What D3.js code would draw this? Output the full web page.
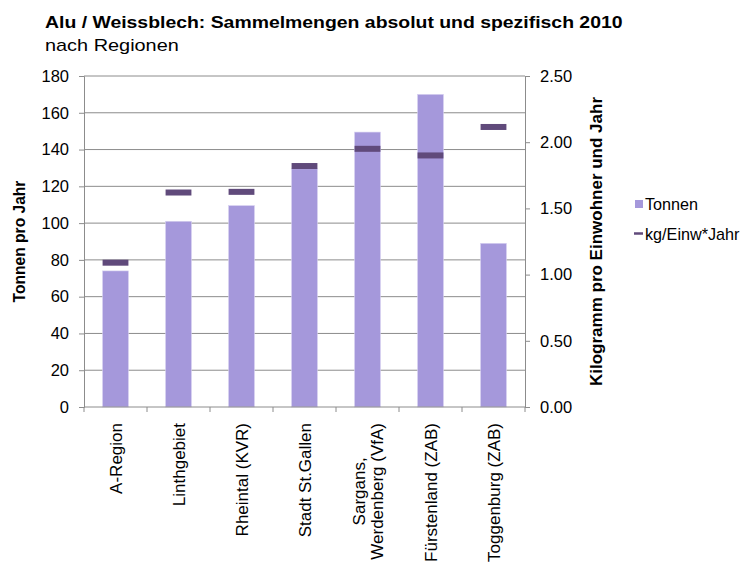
<!DOCTYPE html>
<html>
<head>
<meta charset="utf-8">
<script src="https://cdn.jsdelivr.net/npm/d3@7"></script>
<style>
  body { margin: 0; background: #fff; }
  svg { font-family: "Liberation Sans", Arial, sans-serif; }
</style>
</head>
<body>
<div id="chart"></div>
<script>
// regions and values
var regions = [
  ['A-Region'],
  ['Linthgebiet'],
  ['Rheintal (KVR)'],
  ['Stadt St.Gallen'],
  ['Sargans,', 'Werdenberg (VfA)'],
  ['Fürstenland (ZAB)'],
  ['Toggenburg (ZAB)']
];
var tonnen = [74, 101, 109.5, 129.5, 149.5, 170, 89];
var kgEinw = [1.09, 1.62, 1.625, 1.82, 1.95, 1.90, 2.115];
var leftTicks = [0, 20, 40, 60, 80, 100, 120, 140, 160, 180];
var rightTicks = [0, 0.5, 1, 1.5, 2, 2.5];

var W = 745, H = 565;
var m = {left: 84, right: 220, top: 76, bottom: 158};
var pw = W - m.left - m.right, ph = H - m.top - m.bottom;

var barColor = '#a598db', markColor = '#604a7b', gridColor = '#8c8c8c';

var svg = d3.select('#chart').append('svg')
  .attr('width', W).attr('height', H);

// the original text is a bit wider than tall, so stretch it sideways
function wideText(x, y, size, bold, str) {
  svg.append('text')
    .attr('transform', 'translate(' + x + ',' + y + ') scale(1.17,1)')
    .style('font-size', size + 'px')
    .style('font-weight', bold ? 'bold' : 'normal')
    .text(str);
}

// titles
wideText(45, 28, 16.6, true, 'Alu / Weissblech: Sammelmengen absolut und spezifisch 2010');
wideText(45, 50.5, 17, false, 'nach Regionen');

var x = d3.scaleBand().domain(d3.range(regions.length))
  .range([m.left, m.left + pw]).paddingInner(0.59).paddingOuter(0.295);
var yL = d3.scaleLinear().domain([0, 180]).range([m.top + ph, m.top]);
var yR = d3.scaleLinear().domain([0, 2.5]).range([m.top + ph, m.top]);

// gridlines
svg.append('g').selectAll('line').data(leftTicks.slice(1)).enter()
  .append('line')
  .attr('x1', m.left).attr('x2', m.left + pw)
  .attr('y1', function(d) { return yL(d); })
  .attr('y2', function(d) { return yL(d); })
  .style('stroke', gridColor).style('stroke-width', 1);

// bars
svg.append('g').selectAll('rect').data(tonnen).enter()
  .append('rect')
  .attr('x', function(d, i) { return x(i); })
  .attr('width', x.bandwidth())
  .attr('y', function(d) { return yL(d); })
  .attr('height', function(d) { return yL(0) - yL(d); })
  .style('fill', barColor)
  .style('stroke', '#d6d0f0').style('stroke-width', 0.6);

// kg/Einw markers
svg.append('g').selectAll('rect').data(kgEinw).enter()
  .append('rect')
  .attr('x', function(d, i) { return x(i); })
  .attr('width', x.bandwidth())
  .attr('y', function(d) { return yR(d) - 3; })
  .attr('height', 6)
  .style('fill', markColor);

// axes
var leftAxis = d3.axisLeft(yL).tickValues(leftTicks).tickSize(5).tickPadding(10);
var gl = svg.append('g').attr('transform', 'translate(' + m.left + ',0)').call(leftAxis);

var rightAxis = d3.axisRight(yR).tickValues(rightTicks).tickSize(5).tickPadding(10)
  .tickFormat(d3.format('.2f'));
var gr = svg.append('g').attr('transform', 'translate(' + (m.left + pw) + ',0)').call(rightAxis);

var gx = svg.append('g').attr('transform', 'translate(0,' + (m.top + ph) + ')');
gx.append('line').attr('x1', m.left).attr('x2', m.left + pw)
  .style('stroke', gridColor);
var step = x.step();
gx.selectAll('.tk').data(d3.range(regions.length + 1)).enter()
  .append('line')
  .attr('x1', function(i) { return m.left + i * step; })
  .attr('x2', function(i) { return m.left + i * step; })
  .attr('y1', 0).attr('y2', 5)
  .style('stroke', gridColor);

[gl, gr].forEach(function(g) {
  g.select('.domain').style('stroke', gridColor);
  g.selectAll('.tick line').style('stroke', gridColor);
  g.selectAll('.tick text').style('font-size', '16.5px').style('fill', '#000')
    .style('font-family', '"Liberation Sans", Arial, sans-serif');
});

// category labels, rotated
var lab = gx.selectAll('.lab').data(regions).enter()
  .append('text')
  .attr('transform', function(d, i) {
    return 'translate(' + (x(i) + x.bandwidth() / 2) + ',16) rotate(-90)';
  })
  .style('font-size', '17px');
lab.each(function(d) {
  var t = d3.select(this);
  var n = d.length;
  d.forEach(function(s, k) {
    t.append('tspan')
      .attr('dy', k === 0 ? (6 - (n - 1) * 9) + 'px' : '18px')
      .attr('text-anchor', 'middle')
      .text(s);
  });
  // center every line on the longest one, which ends at the axis
  var spans = t.selectAll('tspan').nodes();
  var maxW = d3.max(spans, function(s) { return s.getComputedTextLength(); });
  spans.forEach(function(s) { d3.select(s).attr('x', -maxW / 2); });
});

// axis titles
svg.append('text')
  .attr('transform', 'translate(25,' + (m.top + ph / 2) + ') rotate(-90)')
  .attr('text-anchor', 'middle')
  .style('font-size', '15.6px').style('font-weight', 'bold')
  .text('Tonnen pro Jahr');
svg.append('text')
  .attr('transform', 'translate(602,' + (m.top + ph / 2) + ') rotate(-90)')
  .attr('text-anchor', 'middle')
  .style('font-size', '17px').style('font-weight', 'bold')
  .text('Kilogramm pro Einwohner und Jahr');

// legend
var lg = svg.append('g').attr('transform', 'translate(635,0)');
lg.append('rect').attr('x', 0).attr('y', 200).attr('width', 8).attr('height', 8)
  .style('fill', barColor);
lg.append('text').attr('x', 10).attr('y', 210).style('font-size', '16.2px').text('Tonnen');
lg.append('line').attr('x1', -1).attr('x2', 8).attr('y1', 233.5).attr('y2', 233.5)
  .style('stroke', markColor).style('stroke-width', 2.5);
lg.append('text').attr('x', 10).attr('y', 239.5).style('font-size', '16.2px').text('kg/Einw*Jahr');
</script>
</body>
</html>
